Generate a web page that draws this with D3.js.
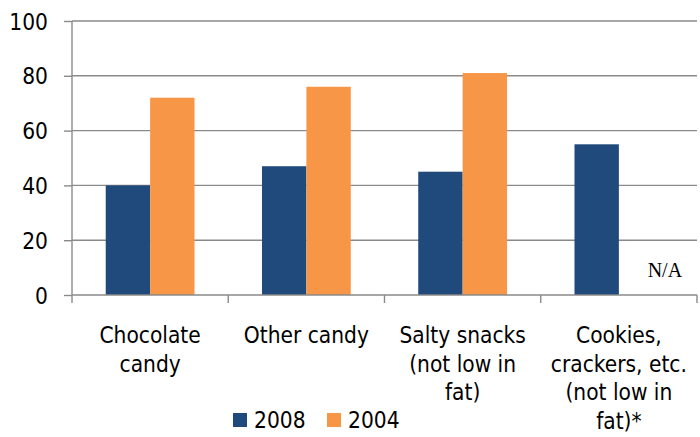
<!DOCTYPE html>
<html>
<head>
<meta charset="utf-8">
<script src="https://cdn.jsdelivr.net/npm/d3@7"></script>
<style>
  html, body { margin: 0; padding: 0; background: #fff; }
  svg { display: block; }
  text { font-family: "DejaVu Sans Condensed", "DejaVu Sans", sans-serif; fill: #000; }
</style>
</head>
<body>
<svg id="chart" width="700" height="437"></svg>
<script>
// Share of schools selling each snack type
const categories = [
  ["Chocolate", "candy"],
  ["Other candy"],
  ["Salty snacks", "(not low in", "fat)"],
  ["Cookies,", "crackers, etc.", "(not low in", "fat)*"]
];
const seriesNames = ["2008", "2004"];
const values2008 = [40, 47, 45, 55];
const values2004 = [72, 76, 81, null];
const yTicks = [0, 20, 40, 60, 80, 100];
const colors = ["#214A7C", "#F79646"];

const svg = d3.select("#chart");
const m = { left: 72, right: 697, top: 21, bottom: 295 };
const fontSize = "22.5px";

const x = d3.scaleBand()
  .domain(d3.range(categories.length))
  .range([m.left, m.right])
  .paddingInner(0)
  .paddingOuter(0);

const y = d3.scaleLinear().domain([0, 100]).range([m.bottom, m.top]);

// horizontal gridlines
svg.append("g").selectAll("line")
  .data(yTicks.filter(d => d > 0))
  .join("line")
  .attr("x1", m.left).attr("x2", m.right)
  .attr("y1", d => y(d)).attr("y2", d => y(d))
  .attr("stroke", "#8a8a8a").attr("stroke-width", 1.4);

// bars
const inner = d3.scaleBand().domain([0, 1]).range([0, x.bandwidth()]).paddingOuter(0.76).paddingInner(0);
const seriesData = [values2008, values2004];
seriesData.forEach((vals, si) => {
  svg.append("g").selectAll("rect")
    .data(vals.map((v, i) => ({ v, i })).filter(d => d.v != null))
    .join("rect")
    .attr("x", d => x(d.i) + inner(si))
    .attr("width", inner.bandwidth())
    .attr("y", d => y(d.v))
    .attr("height", d => y(0) - y(d.v))
    .attr("fill", colors[si]);
});

// y axis
const yAxis = d3.axisLeft(y).tickValues(yTicks).tickSize(8).tickPadding(16);
const gy = svg.append("g").attr("transform", `translate(${m.left},0)`).call(yAxis);
gy.select(".domain").attr("stroke", "#8a8a8a").attr("stroke-width", 1.4)
  .attr("d", `M0,${m.top}V${m.bottom + 8}`);
gy.selectAll(".tick line").attr("stroke", "#8a8a8a").attr("stroke-width", 1.4);
gy.selectAll(".tick text").style("font-family", '"DejaVu Sans Condensed", "DejaVu Sans", sans-serif')
  .style("font-size", fontSize).attr("fill", "#000").attr("dy", "0.36em");

// x axis baseline and category separators
const gx = svg.append("g");
gx.append("line").attr("x1", m.left).attr("x2", m.right)
  .attr("y1", m.bottom).attr("y2", m.bottom)
  .attr("stroke", "#8a8a8a").attr("stroke-width", 1.4);
gx.selectAll("line.sep")
  .data(d3.range(1, categories.length + 1))
  .join("line").attr("class", "sep")
  .attr("x1", d => d === categories.length ? m.right : x(d))
  .attr("x2", d => d === categories.length ? m.right : x(d))
  .attr("y1", m.bottom).attr("y2", m.bottom + 8)
  .attr("stroke", "#8a8a8a").attr("stroke-width", 1.4);

// category labels
const lineH = 28.5;
categories.forEach((lines, i) => {
  const t = svg.append("text")
    .attr("text-anchor", "middle")
    .attr("x", x(i) + x.bandwidth() / 2)
    .attr("y", 343)
    .style("font-size", fontSize);
  lines.forEach((ln, k) => {
    t.append("tspan").attr("x", x(i) + x.bandwidth() / 2).attr("dy", k === 0 ? 0 : lineH).text(ln);
  });
});

// missing-data note
svg.append("text")
  .attr("x", x(3) + x.bandwidth() / 2 + 46).attr("y", 277)
  .attr("text-anchor", "middle")
  .style("font-family", '"Liberation Serif", "Times New Roman", serif')
  .style("font-size", "20px")
  .text("N/A");

// legend
const legend = svg.append("g");
const legendX = [233, 327];
seriesNames.forEach((name, i) => {
  legend.append("rect").attr("x", legendX[i]).attr("y", 413).attr("width", 14).attr("height", 14).attr("fill", colors[i]);
  legend.append("text").attr("x", legendX[i] + 21).attr("y", 428).style("font-size", fontSize).text(name);
});
</script>
</body>
</html>
